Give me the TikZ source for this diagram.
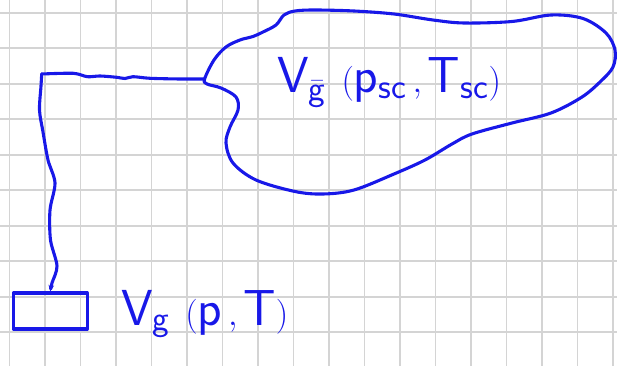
\documentclass[tikz,border=0pt]{standalone}
\usepackage{fontspec}
\usetikzlibrary{arrows.meta, positioning}
\definecolor{inkblue}{RGB}{24,24,232}
\definecolor{gridgray}{RGB}{212,212,212}
\tikzset{
  every node/.style={font=\sffamily},
  ink/.style={draw=inkblue, line width=2.2pt, line cap=round, line join=round},
  gridline/.style={draw=gridgray, line width=1.3pt},
  tank/.style={ink, rectangle, minimum width=1.85cm, minimum height=0.9cm, inner sep=0pt},
  hand/.style={text=inkblue, inner sep=0pt, font=\fontsize{36}{40}\selectfont},
  pipe/.style={ink, -{Stealth[length=1.6mm, width=1.4mm]}},
}

\begin{document}
\begin{tikzpicture}[x=0.025cm, y=-0.025cm]

    \useasboundingbox (0,0) rectangle (617,366);

    % Grid paper
    \foreach \gx in {0,...,17}
      \draw[gridline] (9.5+35.5*\gx,0) -- (9.5+35.5*\gx,366);
    \foreach \gy in {0,...,10}
      \draw[gridline] (0,12.7+35.5*\gy) -- (617,12.7+35.5*\gy);

    % Reservoir blob
    \draw[ink] plot[smooth cycle, tension=0.55] coordinates {
      (204.6,79) (214,60) (226,47) (240,40) (253,36.5) (263,32)
      (276,25) (284,15) (295,11) (315,10) (354,11) (394,14)
      (433,20) (464,23) (512,21.5) (551,15) (583,18.5) (606,33)
      (615,50) (613,67) (601,81) (582,97) (551,113) (512,123)
      (472,134) (452,144) (425,160) (394,174) (354,190) (323,194)
      (295,191.5) (256,180) (233,163) (226,143) (230,127) (238,110)
      (236,97) (221,88) (207,84)
    };

    % Main objects
    \coordinate (tap) at (204.6,79);
    \coordinate (corner) at (41.7,74);
    \node[tank] (cell) at (50.3,311) {};

    \node[hand, anchor=base west] (reslabel) at (277,93)
      {$\mathsf{V}_{\bar{\mathsf{g}}}\ (\mathsf{p}_{\mathsf{sc}}\,,\mathsf{T}_{\mathsf{sc}})$};
    \node[hand, right=0.8cm of cell.east, anchor=base west, yshift=-0.35cm] (celllabel)
      {$\mathsf{V}_{\mathsf{g}}\ (\mathsf{p}\,,\mathsf{T})$};

    % Line from reservoir to cell
    \draw[ink] plot[smooth, tension=0.5] coordinates {
      (tap) (180,79) (150,78.3) (133,76.7) (125,78.5) (116.7,77.3)
      (100,76) (87.3,76.7) (73.3,73.3) (corner)
    };
    \draw[pipe] plot[smooth, tension=0.5] coordinates {
      (corner) (41,86) (39.5,110) (43,132) (48,160) (55,183)
      (50,210) (50.5,240) (57,266) (52,283) (cell.north)
    };

\end{tikzpicture}
\end{document}
